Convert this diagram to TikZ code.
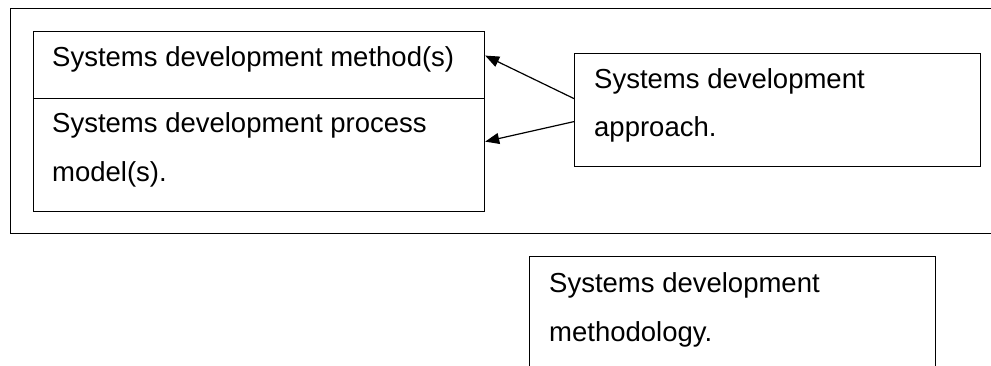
\documentclass[tikz,border=0pt]{standalone}
\usepackage{fontspec}
\setmainfont{Liberation Sans}
\usetikzlibrary{arrows.meta}
\begin{document}
\begin{tikzpicture}[x=1pt,y=-1pt,
  box/.style={draw, line width=1.2pt, inner sep=0pt, anchor=north west},
  lbl/.style={anchor=base west, inner sep=0pt, font=\fontsize{27.5}{30}\selectfont},
  arr/.style={line width=1.2pt, -{Triangle[length=14pt,width=11pt]}}]
\useasboundingbox (0,0) rectangle (991,366);
\clip (0,0) rectangle (991,366);
\node[box, minimum width=1000pt, minimum height=225pt] (outer) at (10,8) {};
\node[box, minimum width=451pt, minimum height=67pt] (method) at (33,31) {};
\node[box, minimum width=451pt, minimum height=113pt] (process) at (33,98) {};
\node[box, minimum width=406pt, minimum height=113pt] (approach) at (574,53) {};
\node[box, minimum width=406pt, minimum height=130pt] (methodology) at (529,256) {};
\node[lbl] (t1) at (52,67) {Systems development method(s)};
\node[lbl] (t2) at (52,133) {Systems development process};
\node[lbl] (t3) at (52,182) {model(s).};
\node[lbl] (t4) at (594,89) {Systems development};
\node[lbl] (t5) at (594,137) {approach.};
\node[lbl] (t6) at (549,293) {Systems development};
\node[lbl] (t7) at (549,341) {methodology.};
\draw[arr] ([yshift=11.5pt]approach.west) -- ([yshift=9.5pt]method.east);
\draw[arr] ([yshift=-11.5pt]approach.west) -- ([yshift=13.5pt]process.east);
\end{tikzpicture}
\end{document}
